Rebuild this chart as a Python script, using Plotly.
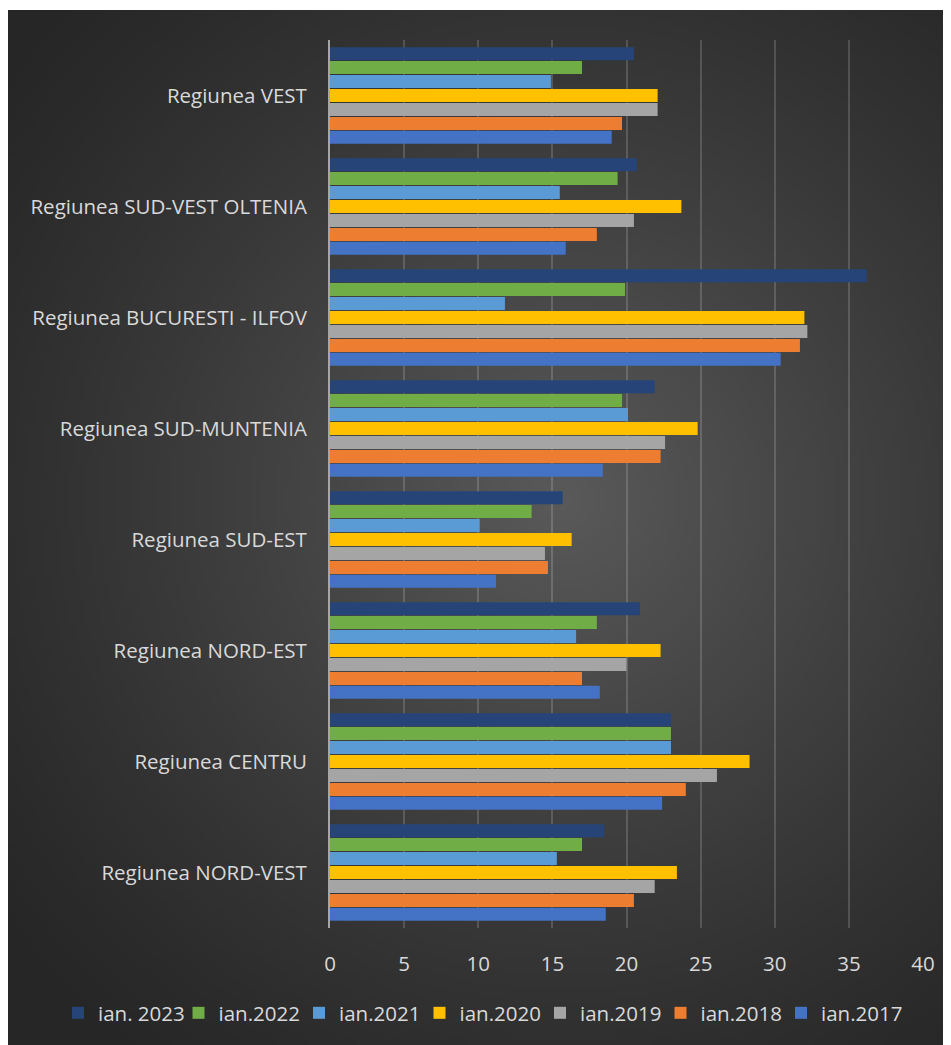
import base64, struct, zlib
import plotly.graph_objects as go

categories = [
    "Regiunea NORD-VEST",
    "Regiunea CENTRU",
    "Regiunea NORD-EST",
    "Regiunea SUD-EST",
    "Regiunea SUD-MUNTENIA",
    "Regiunea BUCURESTI - ILFOV",
    "Regiunea SUD-VEST OLTENIA",
    "Regiunea VEST",
]

ian2017 = [18.6, 22.4, 18.2, 11.2, 18.4, 30.4, 15.9, 19.0]
ian2018 = [20.5, 24.0, 17.0, 14.7, 22.3, 31.7, 18.0, 19.7]
ian2019 = [21.9, 26.1, 20.0, 14.5, 22.6, 32.2, 20.5, 22.1]
ian2020 = [23.4, 28.3, 22.3, 16.3, 24.8, 32.0, 23.7, 22.1]
ian2021 = [15.3, 23.0, 16.6, 10.1, 20.1, 11.8, 15.5, 14.9]
ian2022 = [17.0, 23.0, 18.0, 13.6, 19.7, 19.9, 19.4, 17.0]
ian2023 = [18.5, 23.0, 20.9, 15.7, 21.9, 36.2, 20.7, 20.5]

series_names = ["ian.2017", "ian.2018", "ian.2019", "ian.2020", "ian.2021", "ian.2022", "ian. 2023"]
series_values = [ian2017, ian2018, ian2019, ian2020, ian2021, ian2022, ian2023]
series_colors = ["#4472c4", "#ed7d31", "#a5a5a5", "#ffc000", "#5b9bd5", "#70ad47", "#264478"]

x_ticks = [0, 5, 10, 15, 20, 25, 30, 35, 40]

# figure is placed by the page at (8, 8)
W, H = 943, 1037
L, R, T, B = 322, 28, 32, 117
PW, PH = W - L - R, H - T - B


def radial_png(w, h, cx, cy, rad, vmax, vmin):
    rows = []
    for j in range(h):
        row = bytearray([0])
        for i in range(w):
            d = (((i - cx) ** 2 + (j - cy) ** 2) ** 0.5) / rad
            d = min(1.0, d)
            v = int(vmin + (vmax - vmin) * (1 - d) ** 1.2)
            row += bytes([v, v, v])
        rows.append(bytes(row))
    raw = b"".join(rows)

    def chunk(tag, data):
        c = struct.pack(">I", len(data)) + tag + data
        return c + struct.pack(">I", zlib.crc32(tag + data) & 0xFFFFFFFF)

    png = b"\x89PNG\r\n\x1a\n"
    png += chunk(b"IHDR", struct.pack(">IIBBBBB", w, h, 8, 2, 0, 0, 0))
    png += chunk(b"IDAT", zlib.compress(raw, 9))
    png += chunk(b"IEND", b"")
    return "data:image/png;base64," + base64.b64encode(png).decode()


S = 5
bg = radial_png(W // S + 1, (H - 2) // S + 1, 552 / S, 490 / S, 720 / S, 90, 38)

fig = go.Figure()
for name, vals, col in zip(series_names, series_values, series_colors):
    fig.add_trace(go.Bar(
        y=categories, x=vals, name=name, orientation="h",
        marker=dict(color=col, line=dict(width=0)),
    ))

fig.add_layout_image(dict(
    source=bg, xref="paper", yref="paper",
    x=(0 - L) / PW, y=(H - B - 2) / PH,
    sizex=W / PW, sizey=(H - 2) / PH,
    xanchor="left", yanchor="top", sizing="stretch", layer="below",
))

font_fam = "'Open Sans', Lato, sans-serif"
fig.update_layout(
    width=W, height=H,
    margin=dict(l=L, r=R, t=T, b=B, pad=0),
    paper_bgcolor="white",
    plot_bgcolor="rgba(0,0,0,0)",
    barmode="group",
    bargap=0.12,
    bargroupgap=0.07,
    font=dict(family=font_fam, color="#d9d9d9", size=20.5),
    legend=dict(
        orientation="h", traceorder="reversed",
        xref="paper", x=(50 - L) / PW, xanchor="left",
        yref="paper", y=(H - B - 1005) / PH, yanchor="middle",
        font=dict(size=20.5, color="#d9d9d9"),
        bgcolor="rgba(0,0,0,0)",
        entrywidth=75.5, entrywidthmode="pixels",
        itemwidth=30,
    ),
    xaxis=dict(
        range=[0, 40], tickvals=x_ticks, ticktext=[str(v) for v in x_ticks],
        showgrid=True, gridcolor="rgba(255,255,255,0.16)", gridwidth=2,
        zeroline=False, showline=False, ticks="",
        ticklabelstandoff=21,
        tickfont=dict(size=20.5, color="#d9d9d9"),
        fixedrange=True,
    ),
    yaxis=dict(
        categoryorder="array", categoryarray=categories,
        showline=True, linecolor="#a6a6a6", linewidth=2,
        showgrid=False, ticks="", ticklabelstandoff=17,
        tickfont=dict(size=20.5, color="#d9d9d9"),
        fixedrange=True,
    ),
)

fig.write_html("out.html")
